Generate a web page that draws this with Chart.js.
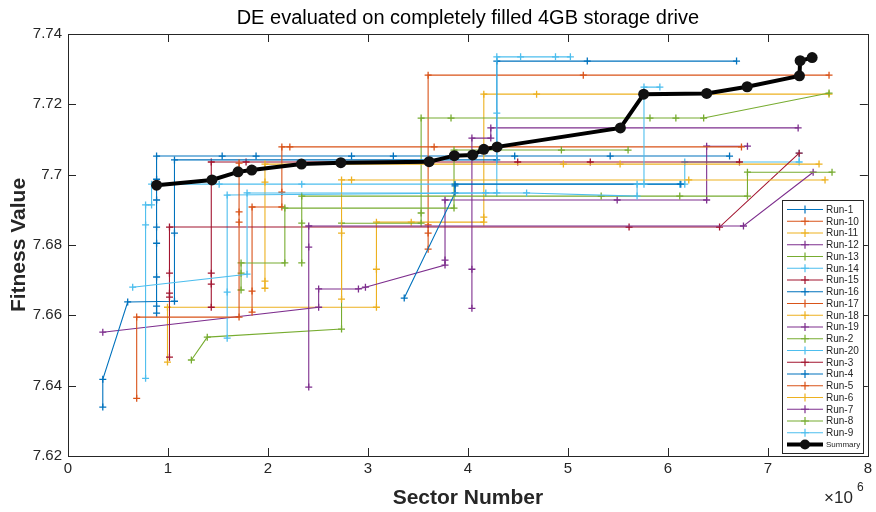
<!DOCTYPE html>
<html>
<head>
<meta charset="utf-8">
<script src="https://cdn.jsdelivr.net/npm/chart.js@4/dist/chart.umd.min.js"></script>
<style>
  body { margin: 0; background: #fff; }
  canvas { display: block; }
</style>
</head>
<body>
<canvas id="chart" width="876" height="512"></canvas>
<script>
// sector numbers are in units of 10^6
const runNames = ["Run-1", "Run-10", "Run-11", "Run-12", "Run-13", "Run-14", "Run-15", "Run-16", "Run-17", "Run-18",
  "Run-19", "Run-2", "Run-20", "Run-3", "Run-4", "Run-5", "Run-6", "Run-7", "Run-8", "Run-9"];

const runColors = ["#0072BD", "#D95319", "#EDB120", "#7E2F8E", "#77AC30", "#4DBEEE", "#A2142F"];

const runX = [
  [0.886, 0.886, 0.886, 0.886, 0.886, 0.886, 0.886, 0.886, 1.542, 1.881, 2.836, 3.254, 4.468, 5.423, 6.617],
  [3.602, 3.602, 3.602, 3.602, 5.154, 7.612],
  [0.995, 0.995, 3.085, 3.085, 3.085, 3.433, 4.159, 4.159, 4.159, 4.687, 7.612],
  [0.348, 2.507, 2.507, 2.905, 2.975, 3.771, 3.771, 3.771, 5.493, 6.388, 6.388, 6.796],
  [1.234, 1.393, 2.736, 2.736, 3.532, 3.532, 3.532, 3.831, 5.821, 6.080, 6.358, 7.612],
  [0.776, 0.776, 0.776, 0.836, 0.836, 1.512, 2.338, 6.119, 6.169, 6.169, 7.313, 7.313],
  [1.433, 1.433, 1.433, 1.433, 1.781, 4.498, 5.224, 6.716],
  [0.348, 0.348, 0.597, 1.065, 1.065, 1.065, 4.289, 4.289, 5.194, 6.687],
  [1.841, 1.841, 1.841, 2.139, 2.139, 2.139, 2.219, 3.662, 6.736],
  [1.970, 1.970, 1.970, 1.970, 4.955, 5.522, 7.512],
  [4.040, 4.040, 4.040, 4.229, 4.229, 7.303],
  [1.731, 1.731, 1.731, 2.169, 2.169, 3.861, 3.861, 4.935, 5.602],
  [1.592, 1.592, 1.592, 4.179, 4.289, 4.289, 4.289, 4.527, 4.876, 5.025],
  [1.015, 1.015, 1.015, 1.015, 1.015, 5.612, 6.517, 7.313],
  [3.363, 3.871, 3.871, 3.871, 6.129],
  [0.687, 0.687, 1.711, 1.711, 1.711, 1.711],
  [2.736, 2.736, 2.736, 2.836, 6.209, 7.572],
  [2.408, 2.408, 2.408, 6.756, 7.453],
  [2.338, 2.338, 2.338, 5.333, 6.119, 6.796, 6.796, 7.642],
  [0.647, 1.791, 1.791, 4.587, 5.692, 5.692, 5.761, 5.761, 5.920]
];

const runY = [
  [7.6606, 7.6626, 7.6709, 7.6805, 7.6851, 7.6928, 7.6987, 7.7053, 7.7053, 7.7053, 7.7053, 7.7053, 7.7053, 7.7053, 7.7053],
  [7.6788, 7.6834, 7.6857, 7.7283, 7.7283, 7.7283],
  [7.6467, 7.6623, 7.6623, 7.6731, 7.6865, 7.6865, 7.6865, 7.6879, 7.7229, 7.7229, 7.7229],
  [7.6552, 7.6623, 7.6675, 7.6675, 7.6680, 7.6743, 7.6757, 7.6928, 7.6928, 7.6928, 7.7081, 7.7081],
  [7.6473, 7.6538, 7.6561, 7.6862, 7.6862, 7.6891, 7.7161, 7.7161, 7.7161, 7.7161, 7.7161, 7.7232],
  [7.6421, 7.6857, 7.6914, 7.6914, 7.6973, 7.6973, 7.6973, 7.6973, 7.6973, 7.7036, 7.7036, 7.7061],
  [7.6623, 7.6689, 7.6720, 7.7036, 7.7036, 7.7036, 7.7036, 7.7036],
  [7.6339, 7.6418, 7.6638, 7.6640, 7.6834, 7.7042, 7.7042, 7.7323, 7.7323, 7.7323],
  [7.6609, 7.6669, 7.6908, 7.6908, 7.6950, 7.7079, 7.7079, 7.7079, 7.7079],
  [7.6677, 7.6697, 7.6979, 7.7030, 7.7030, 7.7030, 7.7030],
  [7.6620, 7.6731, 7.7104, 7.7104, 7.7133, 7.7133],
  [7.6672, 7.6720, 7.6749, 7.6749, 7.6905, 7.6905, 7.7070, 7.7070, 7.7070],
  [7.6535, 7.6666, 7.6942, 7.6948, 7.6948, 7.7175, 7.7335, 7.7335, 7.7335, 7.7335],
  [7.6481, 7.6652, 7.6663, 7.6720, 7.6851, 7.6851, 7.6851, 7.7061],
  [7.6649, 7.6948, 7.6968, 7.6973, 7.6973],
  [7.6364, 7.6595, 7.6595, 7.6865, 7.6894, 7.7033],
  [7.6646, 7.6834, 7.6985, 7.6985, 7.6985, 7.6985],
  [7.6396, 7.6794, 7.6854, 7.6854, 7.7007],
  [7.6749, 7.6862, 7.6939, 7.6939, 7.6939, 7.6939, 7.7007, 7.7007],
  [7.6680, 7.6717, 7.6948, 7.6948, 7.6939, 7.6973, 7.6973, 7.7249, 7.7249]
];

const summaryX = [0.886, 1.440, 1.701, 1.838, 2.335, 2.729, 3.612, 3.864, 4.047, 4.159, 4.292, 5.525, 5.758, 6.388, 6.793, 7.316, 7.323, 7.443];
const summaryY = [7.6970, 7.6985, 7.7008, 7.7013, 7.7030, 7.7034, 7.7037, 7.7054, 7.7056, 7.7072, 7.7079, 7.7133, 7.7229, 7.7231, 7.7250, 7.7281, 7.7324, 7.7333];

const xTicks = [0, 1, 2, 3, 4, 5, 6, 7, 8];
const yTicks = [7.62, 7.64, 7.66, 7.68, 7.70, 7.72, 7.74];

const FONT = "'Liberation Sans', Arial, sans-serif";
const TEXT = "#262626";

function toPoints(xs, ys) {
  return xs.map((x, i) => ({ x: x, y: ys[i] }));
}

const datasets = runNames.map((name, i) => {
  const c = runColors[i % runColors.length];
  return {
    label: name,
    data: toPoints(runX[i], runY[i]),
    borderColor: c,
    backgroundColor: c,
    borderWidth: 1.1,
    pointStyle: "cross",
    pointRadius: 3.5,
    pointBorderWidth: 1.3,
    order: 20 - i
  };
});

datasets.push({
  label: "Summary",
  data: toPoints(summaryX, summaryY),
  borderColor: "#000",
  backgroundColor: "#111",
  borderWidth: 4,
  pointStyle: "circle",
  pointRadius: 5.5,
  pointBorderWidth: 0,
  order: -1
});

// frame, inward ticks, titles, legend
const matlabLook = {
  id: "matlabLook",
  afterDraw(chart) {
    const ctx = chart.ctx;
    const a = chart.chartArea;
    const xs = chart.scales.x;
    const ys = chart.scales.y;
    ctx.save();
    ctx.strokeStyle = TEXT;
    ctx.lineWidth = 1;
    ctx.beginPath();
    xTicks.forEach(t => {
      const px = Math.round(xs.getPixelForValue(t)) + 0.5;
      ctx.moveTo(px, a.bottom); ctx.lineTo(px, a.bottom - 8);
      ctx.moveTo(px, a.top); ctx.lineTo(px, a.top + 8);
    });
    yTicks.forEach(t => {
      const py = Math.round(ys.getPixelForValue(t)) + 0.5;
      ctx.moveTo(a.left, py); ctx.lineTo(a.left + 8, py);
      ctx.moveTo(a.right, py); ctx.lineTo(a.right - 8, py);
    });
    ctx.stroke();
    ctx.strokeRect(Math.round(a.left) + 0.5, Math.round(a.top) + 0.5, Math.round(a.right - a.left), Math.round(a.bottom - a.top));

    // title
    ctx.fillStyle = "#000";
    ctx.textAlign = "center";
    ctx.textBaseline = "alphabetic";
    ctx.font = "20px " + FONT;
    ctx.fillText("DE evaluated on completely filled 4GB storage drive", (a.left + a.right) / 2, 24);

    // axis titles
    ctx.fillStyle = TEXT;
    ctx.font = "bold 21px " + FONT;
    ctx.fillText("Sector Number", (a.left + a.right) / 2, 504);
    ctx.save();
    ctx.translate(25, (a.top + a.bottom) / 2);
    ctx.rotate(-Math.PI / 2);
    ctx.fillText("Fitness Value", 0, 0);
    ctx.restore();

    // exponent
    ctx.textAlign = "left";
    ctx.font = "17px " + FONT;
    ctx.fillText("\u00d710", 824, 503);
    ctx.font = "12px " + FONT;
    ctx.fillText("6", 857, 491);

    // legend
    const lx = 782, ly = 200, lw = 81, lh = 253;
    ctx.fillStyle = "#fff";
    ctx.fillRect(lx, ly, lw, lh);
    ctx.strokeStyle = TEXT;
    ctx.lineWidth = 1;
    ctx.strokeRect(lx + 0.5, ly + 0.5, lw, lh);
    chart.data.datasets.forEach((ds, i) => {
      const y = ly + 9.5 + i * 11.75;
      const isSum = ds.label === "Summary";
      ctx.strokeStyle = ds.borderColor;
      ctx.lineWidth = isSum ? 4 : 1.2;
      ctx.beginPath();
      ctx.moveTo(lx + 5, y); ctx.lineTo(lx + 41, y);
      ctx.stroke();
      const mx = lx + 23;
      if (isSum) {
        ctx.fillStyle = "#111";
        ctx.beginPath();
        ctx.arc(mx, y, 5, 0, Math.PI * 2);
        ctx.fill();
      } else {
        ctx.lineWidth = 1.2;
        ctx.beginPath();
        ctx.moveTo(mx - 4, y); ctx.lineTo(mx + 4, y);
        ctx.moveTo(mx, y - 4); ctx.lineTo(mx, y + 4);
        ctx.stroke();
      }
      ctx.fillStyle = TEXT;
      ctx.textAlign = "left";
      ctx.textBaseline = "middle";
      ctx.font = (isSum ? "8px " : "10px ") + FONT;
      ctx.fillText(ds.label, lx + 44, y + 0.5);
    });
    ctx.restore();
  }
};

new Chart(document.getElementById("chart"), {
  type: "line",
  data: { datasets: datasets },
  options: {
    responsive: false,
    animation: false,
    events: [],
    layout: { padding: { top: 34, right: 4, left: 0, bottom: 0 } },
    elements: { line: { tension: 0 } },
    plugins: {
      legend: { display: false },
      tooltip: { enabled: false }
    },
    scales: {
      x: {
        type: "linear",
        min: 0,
        max: 8,
        afterFit: s => { s.height = 56; },
        afterBuildTicks: s => { s.ticks = xTicks.map(v => ({ value: v })); },
        grid: { display: false, drawTicks: false },
        border: { display: false },
        ticks: { color: TEXT, font: { size: 15, family: FONT }, padding: 4, maxRotation: 0 }
      },
      y: {
        type: "linear",
        min: 7.62,
        max: 7.74,
        afterFit: s => { s.width = 68; },
        afterBuildTicks: s => { s.ticks = yTicks.map(v => ({ value: v })); },
        grid: { display: false, drawTicks: false },
        border: { display: false },
        ticks: {
          color: TEXT,
          font: { size: 15, family: FONT },
          padding: 6,
          callback: v => String(parseFloat(v.toFixed(2)))
        }
      }
    }
  },
  plugins: [matlabLook]
});
</script>
</body>
</html>
